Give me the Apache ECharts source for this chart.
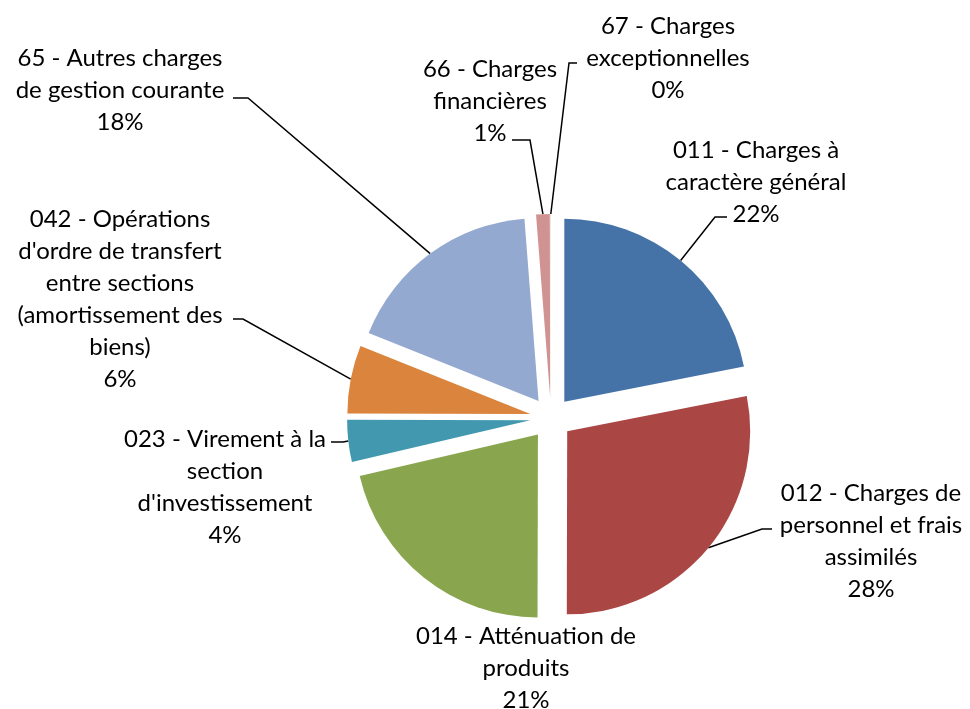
<!DOCTYPE html>
<html>
<head>
<meta charset="utf-8">
<script src="https://cdn.jsdelivr.net/npm/echarts@6/dist/echarts.min.js"></script>
<style>
  html, body { margin: 0; padding: 0; background: #fff; }
  #chart { width: 970px; height: 709px; }
</style>
</head>
<body>
<div id="chart"></div>
<script>
// categories (line breaks as in the original labels)
var names = [
    '011 - Charges à\ncaractère général',
    '012 - Charges de\npersonnel et frais\nassimilés',
    '014 - Atténuation de\nproduits',
    '023 - Virement à la\nsection\nd\'investissement',
    '042 - Opérations\nd\'ordre de transfert\nentre sections\n(amortissement des\nbiens)',
    '65 - Autres charges\nde gestion courante',
    '66 - Charges\nfinancières',
    '67 - Charges\nexceptionnelles'
];
// share of each chapter, in %
var values = [21.9, 28.1, 21.3, 3.7, 6.0, 17.7, 1.2, 0.03];
var colors = ['#4572A7', '#AA4643', '#89A54E', '#4198AF', '#DB843D', '#93A9CF', '#D19392', '#B9CD96'];

// where each label sits: [center x, middle y], and the leader elbow / end
var labelPos = [[756, 182], [871, 541], [526, 668], [225, 487], [120, 299], [120, 90], [490, 101], [668, 58]];
var lineEnd = [
    [[715, 217], [727, 217]],
    [[762, 529], [772, 529]],
    null,
    [[343, 442], [331, 442]],
    [[243, 319], [233, 319]],
    [[248, 98], [233, 98]],
    [[530, 140], [512, 140]],
    [[569, 63], [577, 63]]
];

var pieCenter = [551, 418];
var pieRadius = 183;
var explode = 21;

var myChart = echarts.init(document.getElementById('chart'));

function labelLayout(params) {
    var i = params.dataIndex;
    var res = {
        x: labelPos[i][0],
        y: labelPos[i][1],
        align: 'center',
        verticalAlign: 'middle'
    };
    if (lineEnd[i] && params.labelLinePoints) {
        res.labelLinePoints = [params.labelLinePoints[0], lineEnd[i][0], lineEnd[i][1]];
    }
    return res;
}

/* one pie per slice, each pushed out along its own bisector (exploded pie) */
var total = 0;
for (var k = 0; k < values.length; k++) total += values[k];

var series = [];
var acc = 0;
for (var i = 0; i < values.length; i++) {
    var mid = (acc + values[i] / 2) / total * Math.PI * 2;
    acc += values[i];
    var data = [];
    for (var j = 0; j < values.length; j++) {
        data.push({
            name: names[j],
            value: values[j],
            itemStyle: {color: j == i ? colors[j] : 'rgba(0,0,0,0)'},
            label: {show: j == i},
            labelLine: {show: j == i && lineEnd[j] != null}
        });
    }
    series.push({
        type: 'pie',
        center: [pieCenter[0] + explode * Math.sin(mid), pieCenter[1] - explode * Math.cos(mid)],
        radius: [0, pieRadius],
        startAngle: 90,
        clockwise: true,
        percentPrecision: 0,
        avoidLabelOverlap: false,
        silent: true,
        emphasis: {scale: false},
        label: {
            position: 'outside',
            formatter: '{b}\n{d}%',
            fontFamily: 'Lato',
            fontSize: 24,
            lineHeight: 32,
            color: '#000',
            align: 'center'
        },
        labelLine: {
            length: 10,
            length2: 10,
            lineStyle: {color: '#000', width: 1.5}
        },
        labelLayout: labelLayout,
        data: data
    });
}

myChart.setOption({animation: false, series: series});
</script>
</body>
</html>
